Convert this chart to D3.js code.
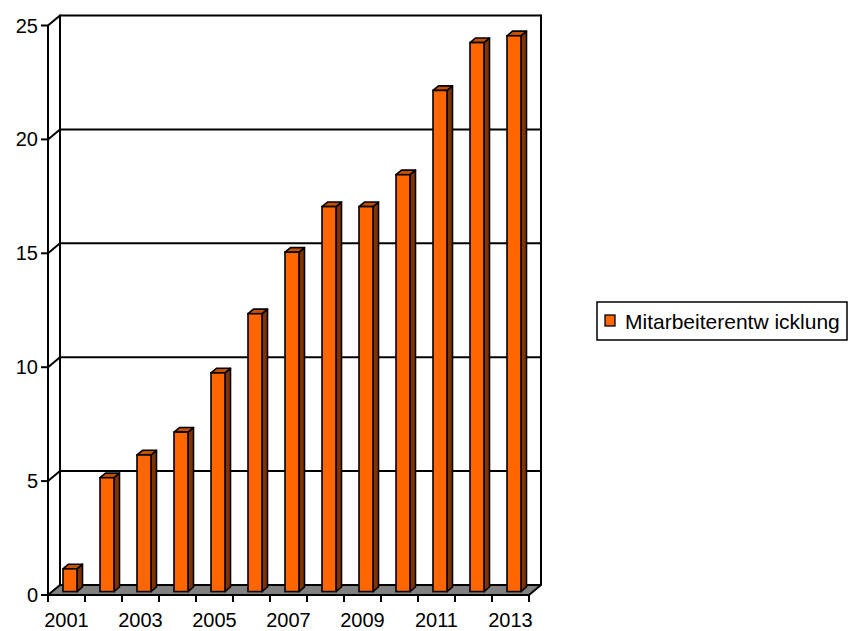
<!DOCTYPE html>
<html>
<head>
<meta charset="utf-8">
<script src="https://cdn.jsdelivr.net/npm/d3@7"></script>
<style>
  html, body { margin: 0; padding: 0; background: #fff; }
  svg text { font-family: "Liberation Sans", Arial, sans-serif; fill: #000; }
</style>
</head>
<body>
<svg id="chart" width="857" height="631"></svg>
<script>
// Employee development per year
const years = ["2001","2002","2003","2004","2005","2006","2007","2008","2009","2010","2011","2012","2013"];
const employees = [1, 5, 6, 7, 9.6, 12.2, 14.9, 16.9, 16.9, 18.3, 22, 24.1, 24.4];
const yTicks = [0, 5, 10, 15, 20, 25];
const xLabelYears = ["2001","2003","2005","2007","2009","2011","2013"];
const seriesName = "Mitarbeiterentw icklung";

const svg = d3.select("#chart");

// Front plane scales; the back wall is the front plane shifted by the depth offset
const x = d3.scaleBand().domain(years).range([48, 529]).padding(0);
const y = d3.scaleLinear().domain([0, 25]).range([595, 25.5]);
const depth = { dx: 12, dy: -10 };

// Bar geometry: front face sits a little inside the floor, with a shallow depth
const barFront = { dx: 3.5, dy: -3.4 };
const barDepth = { dx: 5.5, dy: -4.6 };
const barW = 14;

const colFront = "#ff6600", colTop = "#c45100", colSide = "#803300";

const gx0 = x.range()[0], gx1 = x.range()[1];

// Left side wall (white) with diagonals at each tick
const g = svg.append("g");
g.append("path")
  .attr("d", `M${gx0},${y(0)} L${gx0},${y(25)} L${gx0+depth.dx},${y(25)+depth.dy} L${gx0+depth.dx},${y(0)+depth.dy} Z`)
  .attr("fill", "#fff");

// Back wall gridlines
g.selectAll(".grid").data(yTicks.filter(d => d > 0)).join("line")
  .attr("x1", gx0 + depth.dx).attr("x2", gx1 + depth.dx)
  .attr("y1", d => y(d) + depth.dy).attr("y2", d => y(d) + depth.dy)
  .attr("stroke", "#000").attr("stroke-width", 2);

// Left wall diagonals
g.selectAll(".diag").data(yTicks.filter(d => d > 0)).join("line")
  .attr("x1", gx0).attr("x2", gx0 + depth.dx)
  .attr("y1", d => y(d)).attr("y2", d => y(d) + depth.dy)
  .attr("stroke", "#000").attr("stroke-width", 2);

// Back wall vertical edges
[gx0 + depth.dx, gx1 + depth.dx].forEach(xx => {
  g.append("line")
    .attr("x1", xx).attr("x2", xx)
    .attr("y1", y(25) + depth.dy - 1).attr("y2", y(0) + depth.dy)
    .attr("stroke", "#000").attr("stroke-width", 2);
});

// Floor
g.append("path")
  .attr("d", `M${gx0},${y(0)} L${gx1},${y(0)} L${gx1+depth.dx},${y(0)+depth.dy} L${gx0+depth.dx},${y(0)+depth.dy} Z`)
  .attr("fill", "#808080").attr("stroke", "#000").attr("stroke-width", 2).attr("stroke-linejoin", "round");

// Front value axis
g.append("line")
  .attr("x1", gx0).attr("x2", gx0)
  .attr("y1", y(25)).attr("y2", y(0))
  .attr("stroke", "#000").attr("stroke-width", 2);
g.selectAll(".ytick").data(yTicks).join("line")
  .attr("x1", gx0 - 7).attr("x2", gx0)
  .attr("y1", d => y(d)).attr("y2", d => y(d))
  .attr("stroke", "#000").attr("stroke-width", 2);
g.selectAll(".ylab").data(yTicks).join("text")
  .attr("x", 38).attr("y", d => y(d) + 7)
  .attr("text-anchor", "end").attr("font-size", 20)
  .text(d => d);

// Category axis ticks along the front edge of the floor
const boundaries = years.map(d => x(d)).concat([gx1]);
g.selectAll(".xtick").data(boundaries).join("line")
  .attr("x1", d => d).attr("x2", d => d)
  .attr("y1", y(0)).attr("y2", y(0) + 7)
  .attr("stroke", "#000").attr("stroke-width", 2);
g.selectAll(".xlab").data(xLabelYears).join("text")
  .attr("x", d => x(d) + x.bandwidth() / 2)
  .attr("y", 627)
  .attr("text-anchor", "middle").attr("font-size", 20)
  .text(d => d);

// 3D bars
const base = y(0) + barFront.dy;
const bars = g.selectAll(".bar").data(years.map((d, i) => ({ year: d, v: employees[i] }))).join("g");
bars.each(function(d) {
  const el = d3.select(this);
  const left = x(d.year) + x.bandwidth() / 2 - barW / 2 + barFront.dx;
  const right = left + barW;
  const top = base - (y(0) - y(d.v));
  const dx = barDepth.dx, dy = barDepth.dy;
  // side face
  el.append("path")
    .attr("d", `M${right},${base} L${right},${top} L${right+dx},${top+dy} L${right+dx},${base+dy} Z`)
    .attr("fill", colSide).attr("stroke", "#000").attr("stroke-width", 1.6).attr("stroke-linejoin", "round");
  // top face
  el.append("path")
    .attr("d", `M${left},${top} L${right},${top} L${right+dx},${top+dy} L${left+dx},${top+dy} Z`)
    .attr("fill", colTop).attr("stroke", "#000").attr("stroke-width", 1.6).attr("stroke-linejoin", "round");
  // front face
  el.append("rect")
    .attr("x", left).attr("y", top).attr("width", barW).attr("height", base - top)
    .attr("fill", colFront).attr("stroke", "#000").attr("stroke-width", 1.6);
});

// Legend
const lg = svg.append("g");
lg.append("rect").attr("x", 597).attr("y", 302).attr("width", 250).attr("height", 38)
  .attr("fill", "#fff").attr("stroke", "#000").attr("stroke-width", 1.5);
lg.append("rect").attr("x", 605).attr("y", 315).attr("width", 10).attr("height", 11)
  .attr("fill", colFront).attr("stroke", "#000").attr("stroke-width", 1.3);
lg.append("text").attr("x", 625).attr("y", 328.5).attr("font-size", 21).text(seriesName);
</script>
</body>
</html>
